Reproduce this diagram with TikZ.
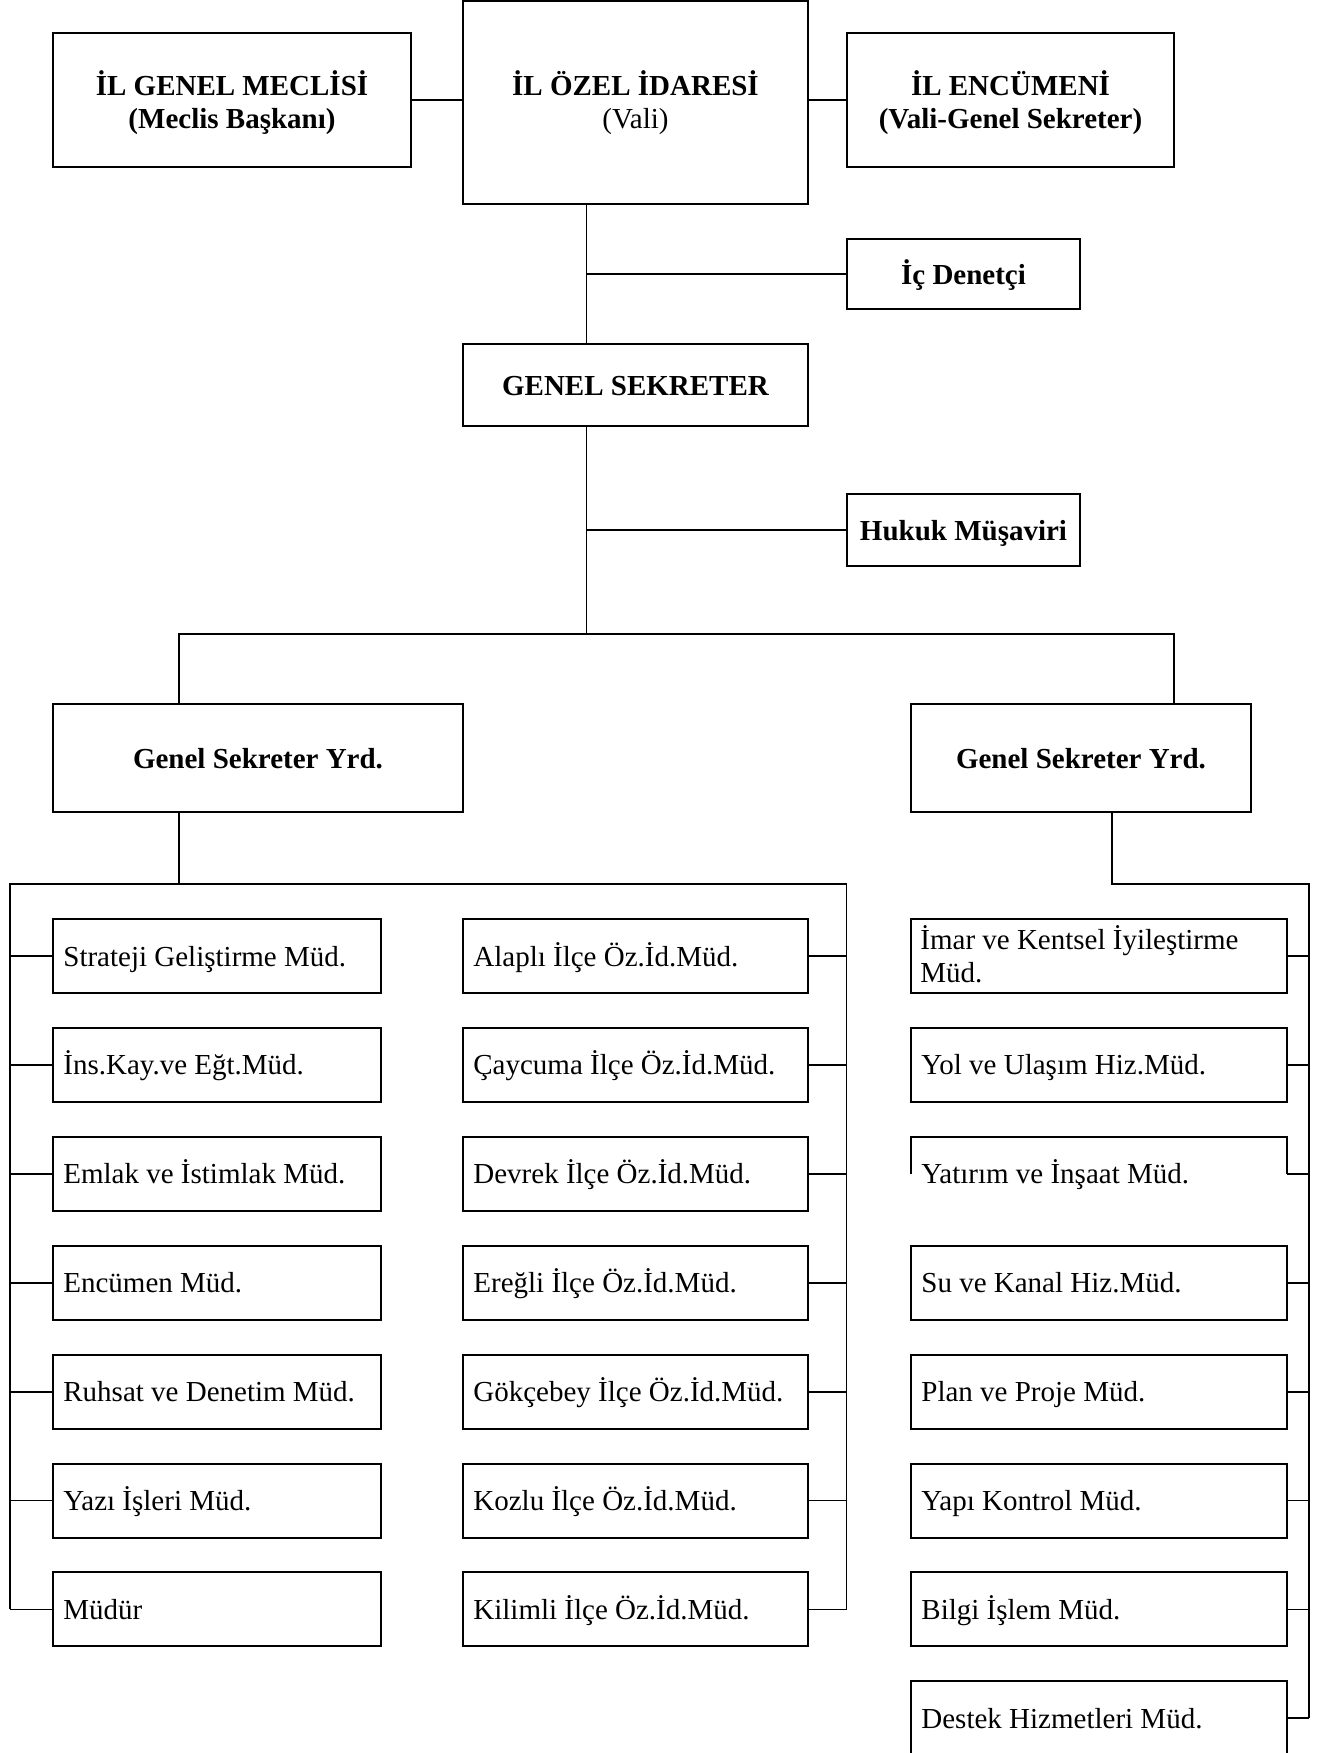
\documentclass[tikz,border=0pt]{standalone}
\usepackage{fontspec}
\setmainfont{Liberation Serif}
\usetikzlibrary{calc}
\newcommand\mkbox[6][]{\node[boxst,#1, minimum width={(#4-#2)*0.5pt}, minimum height={(#6-#3)*0.5pt}] (#5) at ({(#2+#4)/2},{(#3+#6)/2}) {};}
\newcommand\rowbox[6][]{%
  \pgfmathsetmacro\rtop{919+108.9*#5}%
  \pgfmathsetmacro\rbot{\rtop+74}%
  \mkbox[#1]{#2}{\rtop}{#3}{#4}{\rbot}%
  \node[tx, anchor=base west] (#4t) at ($(#4.west)+(10,10)$) {#6};}
\begin{document}
\begin{tikzpicture}[x=0.5pt,y=-0.5pt,
  boxst/.style={draw, line width=1pt, rectangle, inner sep=0pt, outer sep=0pt},
  conn/.style={line width=0.9pt},
  thinc/.style={line width=0.65pt},
  tx/.style={inner sep=0pt, font=\fontsize{14.5pt}{16pt}\selectfont},
  btx/.style={inner sep=0pt, font=\fontsize{14.5pt}{16pt}\selectfont\bfseries}]
\clip (0,0) rectangle (1330,1753);
\useasboundingbox (0,0) rectangle (1330,1753);

% top row
\mkbox{53}{33}{411}{meclis}{167}
\mkbox{463}{1}{808}{ozel}{204}
\mkbox{847}{33}{1174}{enc}{167}
\node[btx, anchor=base] (meclis1) at (meclis.center |- 0,95) {İL GENEL MECLİSİ};
\node[btx, anchor=base] (meclis2) at (meclis.center |- 0,128) {(Meclis Başkanı)};
\node[btx, anchor=base] (ozel1) at (ozel.center |- 0,95) {İL ÖZEL İDARESİ};
\node[tx, anchor=base] (ozel2) at (ozel.center |- 0,128) {(Vali)};
\node[btx, anchor=base] (enc1) at (enc.center |- 0,95) {İL ENCÜMENİ};
\node[btx, anchor=base] (enc2) at (enc.center |- 0,128) {(Vali-Genel Sekreter)};
\draw[conn] (meclis.east) -- (ozel.west |- meclis.east);
\draw[conn] (ozel.east |- enc.west) -- (enc.west);

% staff boxes
\mkbox{847}{239}{1080}{ic}{309}
\node[btx, anchor=base] (ict) at ($(ic.center)+(0,10)$) {İç Denetçi};
\mkbox{463}{344}{808}{gs}{426}
\node[btx, anchor=base] (gst) at ($(gs.center)+(0,10)$) {GENEL SEKRETER};
\mkbox{847}{494}{1080}{hk}{566}
\node[btx, anchor=base] (hkt) at ($(hk.center)+(0,10)$) {Hukuk Müşaviri};

\coordinate (vx) at (586.5,0);
\draw[thinc] (ozel.south -| vx) -- (gs.north -| vx);
\draw[conn] (ic.west -| vx) -- (ic.west);
\coordinate (mbL) at (179,634);
\coordinate (mbR) at (1174,634);
\draw[thinc] (gs.south -| vx) -- (vx |- mbL);
\draw[conn] (hk.west -| vx) -- (hk.west);

% deputies
\mkbox{53}{704}{463}{lgsy}{812}
\node[btx, anchor=base] (lgsyt) at ($(lgsy.center)+(0,10)$) {Genel Sekreter Yrd.};
\mkbox{911}{704}{1251}{rgsy}{812}
\node[btx, anchor=base] (rgsyt) at ($(rgsy.center)+(0,10)$) {Genel Sekreter Yrd.};
\draw[conn] (lgsy.north -| mbL) -- (mbL) -- (mbR) -- (rgsy.north -| mbR);

% left column
\rowbox{53}{381}{s1}{0}{Strateji Geliştirme Müd.}
\rowbox{53}{381}{s2}{1}{İns.Kay.ve Eğt.Müd.}
\rowbox{53}{381}{s3}{2}{Emlak ve İstimlak Müd.}
\rowbox{53}{381}{s4}{3}{Encümen Müd.}
\rowbox{53}{381}{s5}{4}{Ruhsat ve Denetim Müd.}
\rowbox{53}{381}{s6}{5}{Yazı İşleri Müd.}
\rowbox{53}{381}{s7}{6}{Müdür}

% middle column
\rowbox{463}{808}{m1}{0}{Alaplı İlçe Öz.İd.Müd.}
\rowbox{463}{808}{m2}{1}{Çaycuma İlçe Öz.İd.Müd.}
\rowbox{463}{808}{m3}{2}{Devrek İlçe Öz.İd.Müd.}
\rowbox{463}{808}{m4}{3}{Ereğli İlçe Öz.İd.Müd.}
\rowbox{463}{808}{m5}{4}{Gökçebey İlçe Öz.İd.Müd.}
\rowbox{463}{808}{m6}{5}{Kozlu İlçe Öz.İd.Müd.}
\rowbox{463}{808}{m7}{6}{Kilimli İlçe Öz.İd.Müd.}

\coordinate (lbL) at (10,884);
\coordinate (lbR) at (846.5,884);
\coordinate (ldrop) at (179,884);
\draw[conn] (lgsy.south -| ldrop) -- (ldrop);
\draw[conn] (lbL |- s7.west) -- (lbL) -- (lbR) -- (lbR |- m7.east);
\foreach \i in {1,...,7}{
  \draw[conn] (s\i.west) -- (s\i.west -| lbL);
  \draw[conn] (m\i.east) -- (m\i.east -| lbR);
}

% right column
\mkbox{911}{919}{1287}{r1}{993}
\node[tx, anchor=base west] (r1t) at (920,949) {İmar ve Kentsel İyileştirme};
\node[tx, anchor=base west] (r1u) at (920,982.5) {Müd.};
\rowbox{911}{1287}{r2}{1}{Yol ve Ulaşım Hiz.Müd.}
\rowbox[draw=none]{911}{1287}{r3}{2}{Yatırım ve İnşaat Müd.}
\rowbox{911}{1287}{r4}{3}{Su ve Kanal Hiz.Müd.}
\rowbox{911}{1287}{r5}{4}{Plan ve Proje Müd.}
\rowbox{911}{1287}{r6}{5}{Yapı Kontrol Müd.}
\rowbox{911}{1287}{r7}{6}{Bilgi İşlem Müd.}
\rowbox[draw=none]{911}{1287}{r8}{7}{Destek Hizmetleri Müd.}
\draw[line width=1pt] (r3.west) -- (r3.north west) -- (r3.north east) -- (r3.east);
\draw[line width=1pt] (r8.south west) -- (r8.north west) -- (r8.north east) -- (r8.south east);

\coordinate (rdrop) at (1112,884);
\coordinate (rbus) at (1309,884);
\draw[conn] (rgsy.south -| rdrop) -- (rdrop) -- (rbus) -- (rbus |- r8.east);
\foreach \i in {1,...,8}{
  \draw[conn] (r\i.east) -- (r\i.east -| rbus);
}
\end{tikzpicture}
\end{document}
